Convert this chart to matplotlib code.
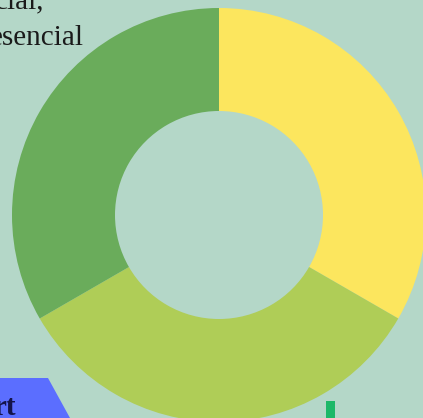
import matplotlib.pyplot as plt
from matplotlib.patches import Polygon, Rectangle

# datos del gráfico de anillo (tres partes iguales)
categorias = ['A', 'B', 'C']
valores = [1, 1, 1]
colores = ['#FCE65E', '#AFCD57', '#6AAC5B']
fondo = '#B4D7C8'

fig = plt.figure(figsize=(4.23, 4.18), dpi=100)
fig.patch.set_facecolor(fondo)
ax = fig.add_axes([0, 0, 1, 1])
ax.set_facecolor(fondo)

# anillo
ax.pie(valores, colors=colores, startangle=90, counterclock=False,
       center=(219, 203), radius=207, frame=True,
       wedgeprops=dict(width=103, linewidth=0))
ax.set_xlim(0, 423)
ax.set_ylim(0, 418)
ax.set_aspect('equal')
ax.axis('off')

# texto cortado arriba a la izquierda
ax.text(44, 410, 'cial,', ha='right', va='baseline', fontsize=21,
        family='Liberation Serif', color='#1a1a1a')
ax.text(84, 373, 'esencial', ha='right', va='baseline', fontsize=21,
        family='Liberation Serif', color='#1a1a1a')

# forma azul abajo a la izquierda
ax.add_patch(Polygon([(0, 40), (48, 40), (70, 0), (0, 0)], closed=True,
                     facecolor='#5B6EFF', edgecolor='none'))
ax.text(16, 3, 'rt', ha='right', va='baseline', fontsize=21,
        family='Liberation Serif', fontweight='bold', color='#14144a')

# barra verde abajo
ax.add_patch(Rectangle((326, 0), 9, 17, facecolor='#1DB868', edgecolor='none'))

fig.savefig('out.png', dpi=100, facecolor=fondo)
